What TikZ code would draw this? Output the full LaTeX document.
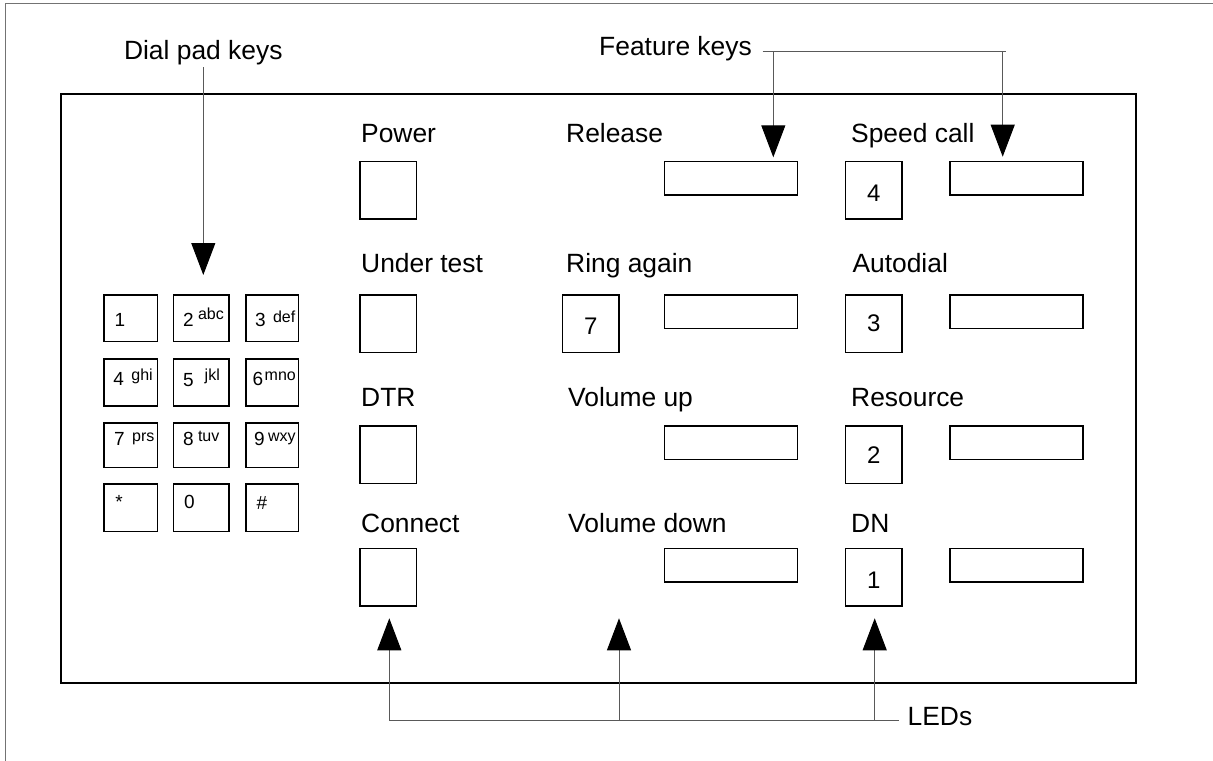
\documentclass[tikz,border=0pt]{standalone}
\usepackage{fontspec}
\setmainfont{Liberation Sans}
\usetikzlibrary{arrows.meta}
\tikzset{
  lbl/.style={font=\fontsize{26.4bp}{30bp}\selectfont, inner sep=0pt, anchor=base west},
  keybox/.style={draw, line width=1.5bp, inner sep=0pt, minimum width=56.5bp, minimum height=57.5bp},
  longbox/.style={draw, line width=1.5bp, inner sep=0pt, minimum width=133bp, minimum height=33.5bp},
  padkey/.style={draw, line width=1.6bp, inner sep=0pt},
  digit/.style={font=\fontsize{24bp}{28bp}\selectfont, inner sep=0pt, anchor=base},
  paddigit/.style={font=\fontsize{19bp}{21bp}\selectfont, inner sep=0pt, anchor=base west},
  padlet/.style={font=\fontsize{16bp}{18bp}\selectfont, inner sep=0pt, anchor=base west},
  lead/.style={line width=1bp, draw=black!65},
  arr/.style={lead, -{Triangle[width=24bp,length=32bp,color=black]}},
}
\begin{document}
\begin{tikzpicture}[x=1bp,y=-1bp]
\useasboundingbox (0,0) rectangle (1213,761);
% outer frame (top and left visible)
\draw[draw=black!55, line width=1.2bp] (5.7,761) -- (5.7,3.3) -- (1213,3.3);
% inner panel
\draw[line width=2.3bp] (61.3,94.3) rectangle (1136,683.3);

% dial pad keys
\foreach \cx/\w [count=\i] in {130.8/53.4, 201.35/55.7, 272.15/52.7}
  \foreach \cy/\h [count=\j] in {318.15/46.7, 382.5/46.8, 445.3/44.4, 507.8/47.4}
    \node[padkey, minimum width=\w bp, minimum height=\h bp] (p\i\j) at (\cx,\cy) {};

\node[paddigit] (d1) at (114.5,326) {1};
\node[paddigit] (d2) at (183,326) {2};
\node[padlet] (t2) at (197.8,319.3) {abc};
\node[paddigit] (d3) at (255,326) {3};
\node[padlet] (t3) at (272.8,322.5) {def};
\node[paddigit] (d4) at (113.3,385) {4};
\node[padlet] (t4) at (131.2,380) {ghi};
\node[paddigit] (d5) at (183,386) {5};
\node[padlet] (t5) at (204.5,380) {jkl};
\node[paddigit] (d6) at (252.3,385) {6};
\node[padlet] (t6) at (264.5,380) {mno};
\node[paddigit] (d7) at (114,445) {7};
\node[padlet] (t7) at (132,441.7) {prs};
\node[paddigit] (d8) at (183,445) {8};
\node[padlet] (t8) at (197.8,441.7) {tuv};
\node[paddigit] (d9) at (254,445) {9};
\node[padlet] (t9) at (267.8,441.7) {wxy};
\node[paddigit] (ds) at (115.3,508) {*};
\node[paddigit] (d0) at (184,508.3) {0};
\node[paddigit] (dh) at (256.3,509.7) {\#};

% column A : LED keys
\node[lbl] (lpower) at (361,142.3) {Power};
\node[keybox] (a1) at (388.3,190.3) {};
\node[lbl] (lunder) at (361,272.7) {Under test};
\node[keybox] (a2) at (388.3,323.7) {};
\node[lbl] (ldtr) at (361,406.7) {DTR};
\node[keybox] (a3) at (388.3,454.5) {};
\node[lbl] (lconn) at (361,532.8) {Connect};
\node[keybox] (a4) at (388.3,577.2) {};

% column B
\node[lbl] (lrel) at (566,142.3) {Release};
\node[longbox] (b1) at (731.2,178.3) {};
\node[lbl] (lring) at (566,272.7) {Ring again};
\node[keybox] (s7) at (590.8,323.7) {};
\node[digit] (n7) at (590.8,334) {7};
\node[longbox] (b2) at (731.2,311.7) {};
\node[lbl] (lvup) at (568,406.7) {Volume up};
\node[longbox] (b3) at (731.2,442.5) {};
\node[lbl] (lvdn) at (568,532.3) {Volume down};
\node[longbox] (b4) at (731.2,565.2) {};

% column C
\node[lbl] (lspeed) at (851,142) {Speed call};
\node[keybox] (c1) at (873.7,190.3) {};
\node[digit] (n4) at (873.7,201.7) {4};
\node[longbox] (e1) at (1016.3,178.3) {};
\node[lbl] (lauto) at (852.3,272.3) {Autodial};
\node[keybox] (c2) at (873.7,323.7) {};
\node[digit] (n3) at (873.7,331.7) {3};
\node[longbox] (e2) at (1016.3,311.7) {};
\node[lbl] (lres) at (851,406.7) {Resource};
\node[keybox] (c3) at (873.7,454.5) {};
\node[digit] (n2) at (873.7,463.3) {2};
\node[longbox] (e3) at (1016.3,442.5) {};
\node[lbl] (ldn) at (851,532.3) {DN};
\node[keybox] (c4) at (873.7,577.2) {};
\node[digit] (n1) at (873.7,588.3) {1};
\node[longbox] (e4) at (1016.3,565.2) {};

% Dial pad keys callout
\node[lbl, anchor=base] (dial) at (203.3,59.3) {Dial pad keys};
\coordinate (dtip) at (203.3,275);
\draw[arr, shorten <=2.5bp] (dial.south) -- (dtip);

% Feature keys callout
\node[lbl] (feat) at (599,56) {Feature keys};
\coordinate (fs) at (762.7,51.7);
\coordinate (fa) at (773.3,51.7);
\coordinate (fb) at (1002.7,51.7);
\coordinate (fe) at (1005.7,51.7);
\coordinate (ta) at (773.3,157.3);
\coordinate (tb) at (1002.7,156.7);
\draw[lead] (fs) -- (fe);
\draw[arr] (fa) -- (ta);
\draw[arr] (fb) -- (tb);

% LEDs callout
\node[lbl] (leds) at (907.5,725) {LEDs};
\coordinate (l1) at (389.3,720.7);
\coordinate (l2) at (619,720.7);
\coordinate (l3) at (874.7,720.7);
\coordinate (le) at (899.3,720.7);
\coordinate (u1) at (389.3,618.3);
\coordinate (u2) at (619,618.3);
\coordinate (u3) at (874.7,618.3);
\draw[lead] (l1) -- (le);
\draw[arr] (l1) -- (u1);
\draw[arr] (l2) -- (u2);
\draw[arr] (l3) -- (u3);
\end{tikzpicture}
\end{document}
